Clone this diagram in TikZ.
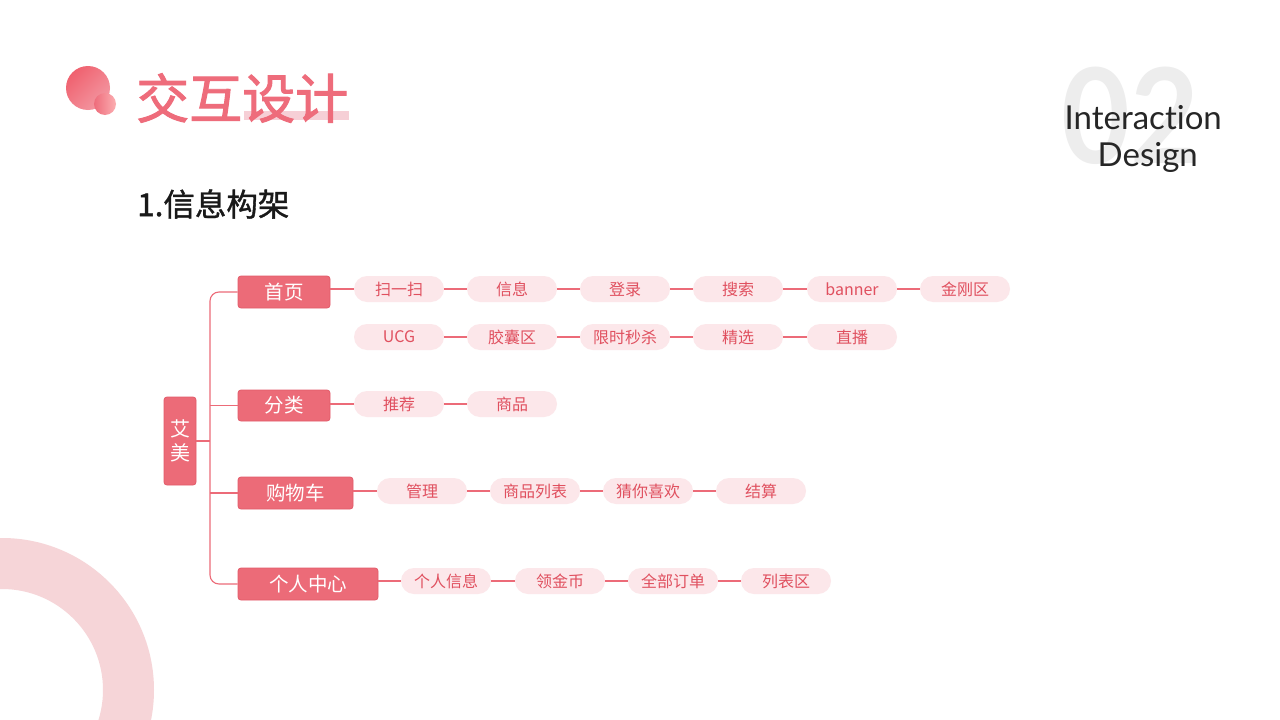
\documentclass[tikz,border=0pt]{standalone}
\usepackage{fontspec}
\setmainfont{Noto Sans CJK SC}
\newfontfamily\cjk{Noto Sans CJK SC}
\newfontfamily\cjkmed[FakeBold=1.2]{Noto Sans CJK SC}
\newfontfamily\cjktitle[FakeBold=1.8]{Noto Sans CJK SC}
\newfontfamily\latfont[Ligatures=NoCommon]{Lato}
\usetikzlibrary{positioning}
\definecolor{boxred}{HTML}{EC6B78}
\definecolor{boxedge}{HTML}{E35A69}
\definecolor{pillfill}{HTML}{FCE7EA}
\definecolor{pilltext}{HTML}{E0505F}
\definecolor{ringpink}{HTML}{F6D5D8}
\definecolor{titlered}{HTML}{EE6C7B}
\definecolor{barpink}{HTML}{F4BFC9}
\definecolor{bggray}{HTML}{EDEDED}
\tikzset{
  mainbox/.style={draw=boxedge, line width=0.8pt, fill=boxred, rounded corners=3pt, text=white, font=\cjk\fontsize{19.5}{19.5}\selectfont, minimum height=32pt, inner sep=0pt},
  pill/.style={fill=pillfill, rounded corners=13pt, text=pilltext, font=\cjk\fontsize{16}{16}\selectfont, minimum width=90pt, minimum height=26pt, inner sep=0pt},
  conn/.style={draw=boxred, line width=1.1pt}
}
\begin{document}
\begin{tikzpicture}[x=1pt,y=-1pt]
\useasboundingbox (0,0) rectangle (1280,720);
\fill[white] (0,0) rectangle (1280,720);
% decorative ring
\begin{scope}
\clip (0,0) rectangle (1280,720);
\fill[ringpink, even odd rule] (2,690) circle[radius=152] (2,690) circle[radius=101];
\end{scope}
% title circles
\shade[left color=titlered!90!red, right color=titlered!70!white, shading angle=45] (88,88) circle[radius=22];
\shade[left color=titlered, right color=pink!80!titlered] (105,104) circle[radius=11];
\fill[barpink, opacity=0.75] (244,111) rectangle (349,120);
\node[anchor=west, inner sep=0pt, text=titlered, font=\cjktitle\fontsize{53}{53}\selectfont] (title) at (136,98) {交互设计};
% 02 and English heading
\node[inner sep=0pt, text=bggray, xscale=0.9, font=\latfont\bfseries\fontsize{132}{132}\selectfont] (num) at (1130,116) {02};
\node[inner sep=0pt, anchor=east, font=\latfont\fontsize{33}{33}\selectfont, text=black!85] (en1) at (1222,118) {Interaction};
\node[inner sep=0pt, anchor=east, font=\latfont\fontsize{33}{33}\selectfont, text=black!85] (en2) at (1198,157) {Design};
% subtitle
\node[anchor=west, inner sep=0pt, font=\cjkmed\fontsize{31.5}{31.5}\selectfont, text=black!90] (sub) at (137,204) {1.信息构架};
% root
\node[mainbox, minimum width=32pt, minimum height=88pt, align=center, font=\cjk\fontsize{20}{24}\selectfont] (root) at (180,441) {艾\\美};
\coordinate (sp) at (210,441);
% level 1
\node[mainbox, minimum width=92pt] (sy) at (284,292) {首页};
\node[mainbox, minimum width=92pt, minimum height=31pt] (fl) at (284,405.5) {分类};
\node[mainbox, minimum width=115pt] (gwc) at (295.5,493) {购物车};
\node[mainbox, minimum width=140pt] (grzx) at (308,584) {个人中心};
% spine
\draw[conn, rounded corners=9pt] (sy.west) -| (sp) |- (grzx.west);
\draw[conn] (root.east) -- (sp);
\draw[conn] (fl.west) -- (fl.west -| sp);
\draw[conn] (gwc.west) -- (gwc.west -| sp);
% row 1
\node[pill] (a1) at (399,289) {扫一扫};
\node[pill] (a2) at (512,289) {信息};
\node[pill] (a3) at (625,289) {登录};
\node[pill] (a4) at (738,289) {搜索};
\node[pill] (a5) at (852,289) {banner};
\node[pill] (a6) at (965,289) {金刚区};
\draw[conn] (sy.east |- a1.west) -- (a1.west);
\draw[conn] (a1) -- (a2); \draw[conn] (a2) -- (a3); \draw[conn] (a3) -- (a4); \draw[conn] (a4) -- (a5); \draw[conn] (a5) -- (a6);
% row 2
\node[pill] (b1) at (399,337) {UCG};
\node[pill] (b2) at (512,337) {胶囊区};
\node[pill] (b3) at (625,337) {限时秒杀};
\node[pill] (b4) at (738,337) {精选};
\node[pill] (b5) at (852,337) {直播};
\draw[conn] (b1) -- (b2); \draw[conn] (b2) -- (b3); \draw[conn] (b3) -- (b4); \draw[conn] (b4) -- (b5);
% 分类
\node[pill] (c1) at (399,404) {推荐};
\node[pill] (c2) at (512,404) {商品};
\draw[conn] (fl.east |- c1.west) -- (c1.west); \draw[conn] (c1) -- (c2);
% 购物车
\node[pill] (d1) at (422,491) {管理};
\node[pill] (d2) at (535,491) {商品列表};
\node[pill] (d3) at (648,491) {猜你喜欢};
\node[pill] (d4) at (761,491) {结算};
\draw[conn] (gwc.east |- d1.west) -- (d1.west);
\draw[conn] (d1) -- (d2); \draw[conn] (d2) -- (d3); \draw[conn] (d3) -- (d4);
% 个人中心
\node[pill] (e1) at (446,581) {个人信息};
\node[pill] (e2) at (560,581) {领金币};
\node[pill] (e3) at (673,581) {全部订单};
\node[pill] (e4) at (786,581) {列表区};
\draw[conn] (grzx.east |- e1.west) -- (e1.west);
\draw[conn] (e1) -- (e2); \draw[conn] (e2) -- (e3); \draw[conn] (e3) -- (e4);
\end{tikzpicture}
\end{document}
